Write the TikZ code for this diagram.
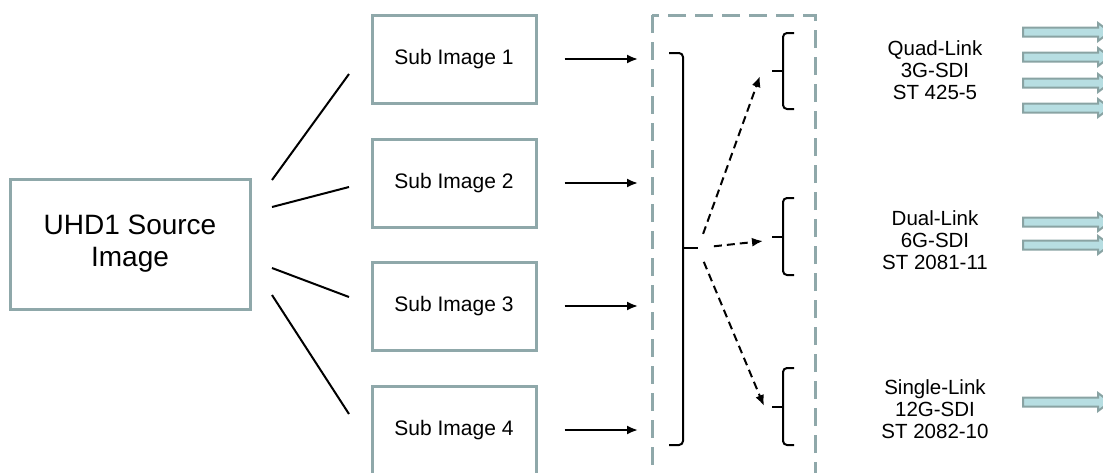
\documentclass[tikz,border=0pt]{standalone}
\usepackage{fontspec}
\setmainfont{Liberation Sans}
\usepackage{tikz}
\usetikzlibrary{arrows.meta}
\usetikzlibrary{positioning}
\definecolor{framegrey}{RGB}{143,168,170}
\definecolor{linkfill}{RGB}{183,222,226}
\definecolor{linkline}{RGB}{137,163,163}
\tikzset{imgbox/.style = {draw = framegrey, line width = 3pt, inner sep = 0,
                          minimum width = 164pt, minimum height = 88pt,
                          font = \fontsize{21}{25}\selectfont}}
\tikzset{srcbox/.style = {imgbox, minimum width = 240pt, minimum height = 130pt,
                          align = center, font = \fontsize{28}{32}\selectfont}}
\tikzset{linklabel/.style = {align = center, font = \fontsize{20.5}{22}\selectfont}}
\tikzset{feed/.style = {line width = 2pt, -{Latex[length=11pt, width=9pt]}}}
\tikzset{route/.style = {feed, dash pattern = on 8pt off 5pt}}
\tikzset{brace/.style = {line width = 2pt, rounded corners = 4pt}}
\tikzset{fatarrow/.style = {draw = linkline, fill = linkfill, line width = 2pt}}

\begin{document}
\begin{tikzpicture}[x = 1pt, y = -1pt]
      \useasboundingbox (0, 0) rectangle (1103, 472);
      \clip (0, 0) rectangle (1103, 472);

      \node [srcbox] (src) at (130, 244) {UHD1 Source\\Image};
      \foreach \i/\y in {1/59, 2/183, 3/306, 4/430} {
        \node [imgbox] (sub\i) at (454, \y) {Sub Image \i};
        \coordinate (in\i) at (638, \y);
        \draw [feed, shorten <= 27pt] (sub\i.east) -- (in\i);
      }

      \foreach \i/\ax/\ay/\bx/\by in {1/272/180/349/74, 2/272/207/349/187,
                                      3/272/268/349/297, 4/272/295/349/414} {
        \coordinate (fan\i a) at (\ax, \ay);
        \coordinate (fan\i b) at (\bx, \by);
        \draw [line width = 2pt] (fan\i a) -- (fan\i b);
      }

      \draw [framegrey, line width = 3pt, dash pattern = on 18pt off 9pt]
        (652, 15) rectangle (815, 490);

      \draw [brace] (669, 53) -- (683, 53) -- (683, 445) -- (669, 445);
      \coordinate (mux) at (698, 248);
      \draw [line width = 2pt] (683, 248) -- (mux);

      \foreach \i/\t/\b in {1/33/109, 2/198/275, 3/368/445} {
        \draw [brace] (794, \t) -- (783, \t) -- (783, \b) -- (794, \b);
        \coordinate (tip\i) at (772, {(\t + \b) / 2});
        \draw [line width = 2pt] (783, {(\t + \b) / 2}) -- (tip\i);
      }

      \coordinate (quad) at (760, 76);
      \coordinate (dual) at (763, 241);
      \coordinate (single) at (764, 406);
      \draw [route, shorten <= 15pt] (mux) -- (quad);
      \draw [route, shorten <= 16pt] (mux) -- (dual);
      \draw [route, shorten <= 15pt] (mux) -- (single);

      \node [linklabel] (quadlbl) at (935, 70) {Quad-Link\\3G-SDI\\ST 425-5};
      \node [linklabel] (duallbl) at (935, 240) {Dual-Link\\6G-SDI\\ST 2081-11};
      \node [linklabel] (singlelbl) at (935, 409) {Single-Link\\12G-SDI\\ST 2082-10};

      \foreach \y in {32, 57, 83, 108, 222, 245, 402}
        \draw [fatarrow] (1023, \y - 4.5) -- (1098, \y - 4.5) -- (1098, \y - 9)
          -- (1110, \y) -- (1098, \y + 9) -- (1098, \y + 4.5) -- (1023, \y + 4.5) -- cycle;
    \end{tikzpicture}
\end{document}
